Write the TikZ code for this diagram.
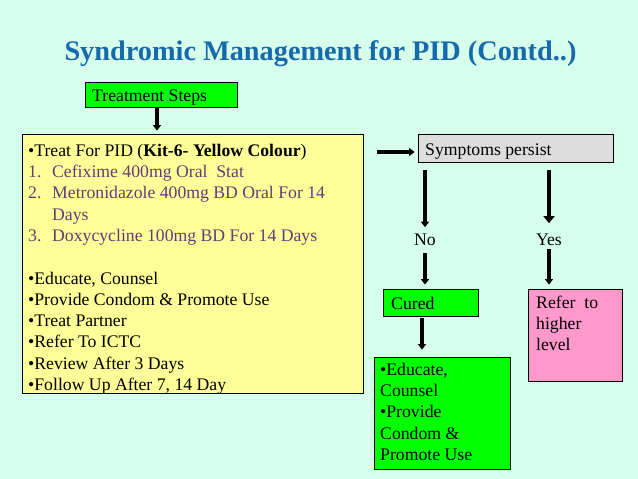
\documentclass[tikz,border=0pt]{standalone}
\usepackage{fontspec}
\setmainfont{Liberation Serif}
\usetikzlibrary{arrows.meta}
\definecolor{mint}{RGB}{214,255,236}
\definecolor{titleblue}{RGB}{22,106,172}
\definecolor{listpurple}{RGB}{100,60,118}
\definecolor{kityellow}{RGB}{255,255,153}
\definecolor{boxgreen}{RGB}{0,255,0}
\definecolor{boxgray}{RGB}{221,221,221}
\definecolor{boxpink}{RGB}{255,153,204}
\newcommand\body{\fontsize{17.7}{21.3}\selectfont}
\tikzset{
  box/.style={draw=black, line width=0.8pt, inner sep=0pt},
  txt/.style={anchor=base west, inner sep=0pt, font=\body},
  arr/.style={line width=3.2pt, -{Triangle[width=8pt,length=5.5pt]}},
  bigarr/.style={line width=4.8pt, -{Triangle[width=11pt,length=7pt]}},
}
\begin{document}
\begin{tikzpicture}[x=1pt,y=-1pt]
	\fill[mint] (0,0) rectangle (638,479);
	\node (title) at (320.5,60) [anchor=base, inner sep=0pt, text=titleblue, font=\fontsize{28.3}{34}\selectfont\bfseries] {Syndromic Management for PID (Contd..)};
	% boxes
	\node (steps) at (161,94.5) [box, fill=boxgreen, minimum width=152pt, minimum height=25pt] {};
	\node (kit) at (192.5,263.5) [box, fill=kityellow, minimum width=341pt, minimum height=259pt] {};
	\node (symp) at (515.5,148) [box, fill=boxgray, minimum width=195pt, minimum height=28pt] {};
	\node (cured) at (430.5,302.5) [box, fill=boxgreen, minimum width=95pt, minimum height=27pt] {};
	\node (educ) at (442,413) [box, fill=boxgreen, minimum width=136pt, minimum height=112pt] {};
	\node (refer) at (575,335) [box, fill=boxpink, minimum width=94pt, minimum height=92pt] {};
	% texts
	\node (stepstext) at (92,101) [txt] {Treatment Steps};
	\node (symptext) at (425,155) [txt] {Symptoms persist};
	\node (curedtext) at (391,309) [txt] {Cured};
	\node (no) at (425,245) [txt, anchor=base] {No};
	\node (yes) at (549,245) [txt, anchor=base] {Yes};
	\node (kittext) at (28,141.1) [txt, anchor=north west, align=left] {\strut\textbullet Treat For PID (\textbf{Kit-6- Yellow Colour})\\
		{\color{listpurple}\makebox[24pt][l]{1.}Cefixime 400mg Oral\ \ Stat}\\
		{\color{listpurple}\makebox[24pt][l]{2.}Metronidazole 400mg BD Oral For 14}\\
		{\color{listpurple}\hspace*{24pt}Days}\\
		{\color{listpurple}\makebox[24pt][l]{3.}Doxycycline 100mg BD For 14 Days}\\
		\strut\\
		\textbullet Educate, Counsel\\
		\textbullet Provide Condom \& Promote Use\\
		\textbullet Treat Partner\\
		\textbullet Refer To ICTC\\
		\textbullet Review After 3 Days\\
		\textbullet Follow Up After 7, 14 Day};
	\node (eductext) at (380,360.1) [txt, anchor=north west, align=left] {\strut\textbullet Educate,\\Counsel\\\textbullet Provide\\Condom \&\\Promote Use};
	\node (refertext) at (536,293.1) [txt, anchor=north west, align=left] {\strut Refer\ \ to\\higher\\level};
	% arrows
	\draw[arr, shorten >=3pt] ([xshift=-4pt]steps.south) -- ([xshift=-4pt]steps.south |- kit.north);
	\draw[arr, shorten >=3pt] ([xshift=14pt,yshift=-4pt]kit.east |- symp.west) -- ([yshift=-4pt]symp.west);
	\draw[arr, shorten <=8pt, shorten >=6pt] (symp.south -| no) -- (no.north);
	\draw[bigarr, shorten <=8pt, shorten >=10pt] (symp.south -| yes) -- (yes.north);
	\draw[arr, shorten <=8pt, shorten >=4pt] (no.south) -- (no.south |- cured.north);
	\draw[arr, shorten <=4pt, shorten >=4pt] (yes.south) -- (yes.south |- refer.north);
	\draw[arr, shorten <=2pt, shorten >=7pt] ([xshift=-8.5pt]cured.south) -- ([xshift=-8.5pt]cured.south |- educ.north);
\end{tikzpicture}
\end{document}
